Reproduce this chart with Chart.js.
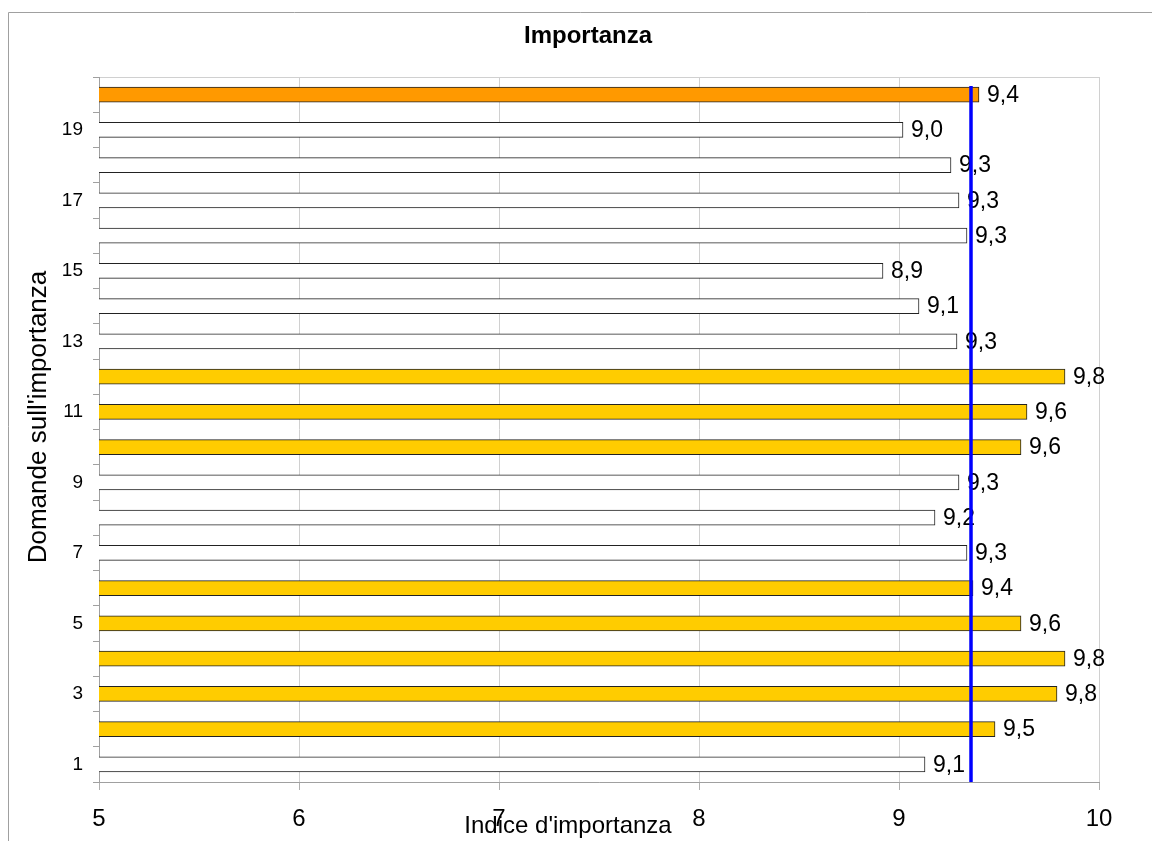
<!DOCTYPE html>
<html lang="it">
<head>
    <meta charset="UTF-8">
    <title>Importanza</title>
    <script src="https://cdn.jsdelivr.net/npm/chart.js"></script>
    <style>
        html, body { margin: 0; padding: 0; background: #fff; }
        canvas { display: block; }
    </style>
</head>
<body>
    <canvas id="importanceChart" width="1152" height="841"></canvas>

    <script>
        // Domande 1..20 (dal basso verso l'alto)
        const questions = ['1', '2', '3', '4', '5', '6', '7', '8', '9', '10',
                           '11', '12', '13', '14', '15', '16', '17', '18', '19', '20'];
        const importance = [9.13, 9.48, 9.79, 9.83, 9.61, 9.37, 9.34, 9.18, 9.30, 9.61,
                            9.64, 9.83, 9.29, 9.10, 8.92, 9.34, 9.30, 9.26, 9.02, 9.40];
        const barGroup = ['w', 'y', 'y', 'y', 'y', 'y', 'w', 'w', 'w', 'y',
                          'y', 'y', 'w', 'w', 'w', 'w', 'w', 'w', 'w', 'o'];
        const average = 9.36;
        const xTicks = [5, 6, 7, 8, 9, 10];

        const groupColors = { w: '#FFFFFF', y: '#FFCC00', o: '#FF9900' };
        const FONT = '"Liberation Sans", Arial, sans-serif';

        // frame, plot border, titles, value labels and the average line
        const decorations = {
            id: 'decorations',
            beforeDraw(chart) {
                const { ctx, chartArea: a } = chart;
                ctx.save();
                ctx.strokeStyle = '#a0a0a0';
                ctx.lineWidth = 1;
                ctx.beginPath();
                ctx.moveTo(8.5, 841);
                ctx.lineTo(8.5, 12.5);
                ctx.lineTo(1152, 12.5);
                ctx.stroke();
                ctx.strokeStyle = '#d0d0d0';
                ctx.strokeRect(a.left + 0.5, a.top + 0.5, a.right - a.left, a.bottom - a.top);
                ctx.restore();
            },
            afterDatasetsDraw(chart) {
                const { ctx, chartArea: a } = chart;
                const meta = chart.getDatasetMeta(0);
                ctx.save();
                ctx.fillStyle = '#000';
                ctx.font = '23px ' + FONT;
                ctx.textBaseline = 'middle';
                ctx.textAlign = 'left';
                meta.data.forEach((bar, i) => {
                    const txt = importance[i].toFixed(1).replace('.', ',');
                    ctx.fillText(txt, bar.x + 8, bar.y + 1);
                });

                const xAvg = chart.scales.x.getPixelForValue(average);
                ctx.strokeStyle = '#0000FF';
                ctx.lineWidth = 3.5;
                ctx.beginPath();
                ctx.moveTo(xAvg, a.top + 9);
                ctx.lineTo(xAvg, a.bottom);
                ctx.stroke();

                ctx.textBaseline = 'alphabetic';
                ctx.textAlign = 'center';
                ctx.font = 'bold 24px ' + FONT;
                ctx.fillText('Importanza', 588, 43);
                ctx.font = '24px ' + FONT;
                ctx.fillText("Indice d'importanza", 568, 833);
                ctx.translate(46, 417);
                ctx.rotate(-Math.PI / 2);
                ctx.font = '26px ' + FONT;
                ctx.fillText("Domande sull'importanza", 0, 0);
                ctx.restore();
            }
        };

        const ctx = document.getElementById('importanceChart').getContext('2d');
        new Chart(ctx, {
            type: 'bar',
            data: {
                labels: questions,
                datasets: [{
                    data: importance,
                    backgroundColor: barGroup.map(g => groupColors[g]),
                    borderColor: '#222',
                    borderWidth: 1,
                    borderSkipped: false,
                    barThickness: 15
                }]
            },
            options: {
                indexAxis: 'y',
                responsive: false,
                animation: false,
                layout: { padding: { top: 77, right: 53, left: 0, bottom: 0 } },
                plugins: {
                    legend: { display: false },
                    title: { display: false },
                    tooltip: { enabled: false }
                },
                scales: {
                    x: {
                        type: 'linear',
                        min: 5,
                        max: 10,
                        afterBuildTicks: s => { s.ticks = xTicks.map(v => ({ value: v })); },
                        afterFit: s => { s.height = 59; },
                        grid: { color: '#d0d0d0', tickLength: 8, tickColor: '#b0b0b0' },
                        border: { color: '#a0a0a0' },
                        ticks: {
                            color: '#000',
                            padding: 15,
                            font: { family: FONT, size: 24 }
                        }
                    },
                    y: {
                        reverse: true,
                        afterFit: s => { s.width = 99; },
                        grid: { drawOnChartArea: false, offset: true, tickLength: 6, color: '#a0a0a0' },
                        border: { color: '#a0a0a0' },
                        ticks: {
                            autoSkip: false,
                            color: '#000',
                            padding: 10,
                            font: { family: FONT, size: 19 },
                            callback: (v, i) => (i % 2 === 0 ? questions[i] : '')
                        }
                    }
                }
            },
            plugins: [decorations]
        });
    </script>
</body>
</html>
